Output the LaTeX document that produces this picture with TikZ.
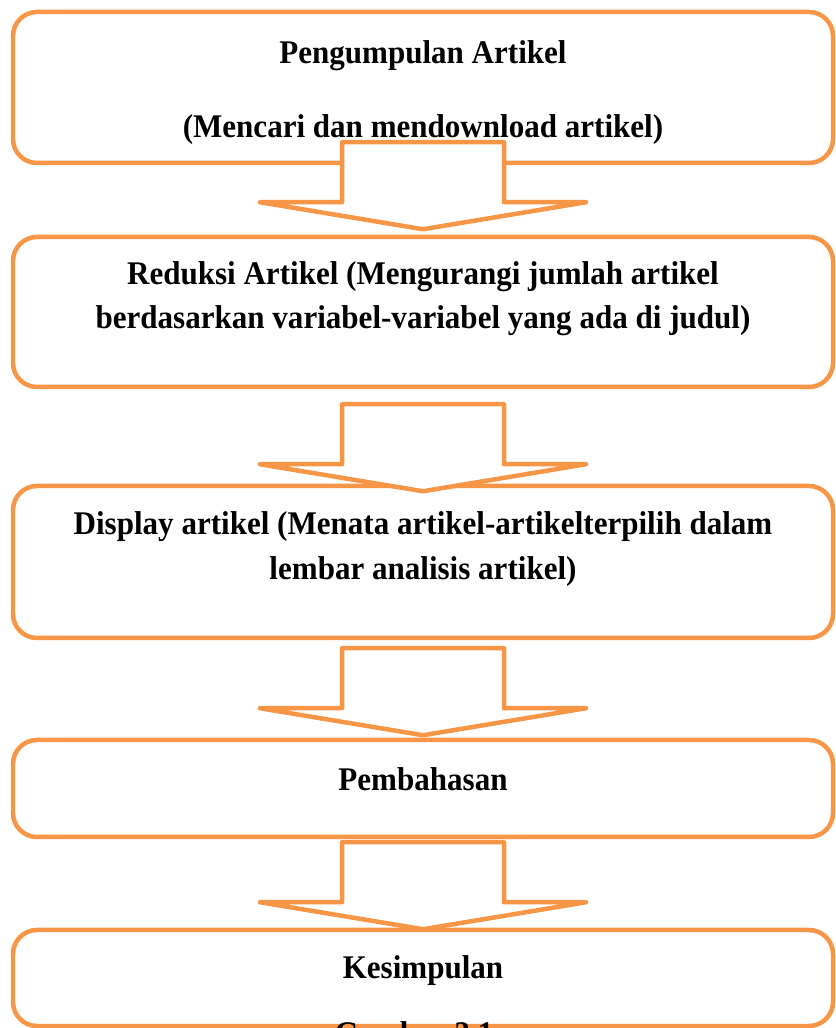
\documentclass[tikz,border=0pt]{standalone}
\usepackage{fontspec}
\setmainfont{Liberation Serif}
\newfontfamily\stagefont[FakeStretch=0.94]{Liberation Serif}
\usetikzlibrary{positioning}
\definecolor{stageorange}{HTML}{F79646}
\definecolor{stageink}{HTML}{000000}

\begin{document}
\begin{tikzpicture}[x=1cm,y=1cm,
    stagebox/.style={draw=stageorange,line width=3.2pt,rounded corners=0.6cm,
      fill=white,minimum width=20.5cm,inner sep=0pt},
    stagetext/.style={align=center,text=stageink,
      font=\stagefont\fontsize{23.5}{31.5}\selectfont\bfseries},
    blockarrow/.style={draw=stageorange,line width=3.2pt,fill=white,line join=round}]
        \useasboundingbox (0,0) rectangle (20.875,25.7);

        \node[stagebox,minimum height=3.775cm] (collect) at (10.575,23.5125) {};
        \node[stagebox,minimum height=3.75cm] (reduce) at (10.575,17.9) {};
        \node[stagebox,minimum height=3.8cm] (display) at (10.575,11.65) {};
        \node[stagebox,minimum height=2.425cm] (discuss) at (10.575,5.9875) {};
        \node[stagebox,minimum height=2.4cm] (conclude) at (10.575,1.25) {};

        \node[stagetext] (collecttext) at (10.575,23.38)
          {Pengumpulan Artikel\\[21pt](Mencari dan mendownload artikel)};
        \node[stagetext] (reducetext) at (10.575,18.23)
          {Reduksi Artikel (Mengurangi jumlah artikel\\berdasarkan variabel-variabel yang ada di judul)};
        \node[stagetext] (displaytext) at (10.575,11.97)
          {Display artikel (Menata artikel-artikelterpilih dalam\\lembar analisis artikel)};
        \node[stagetext] (discusstext) at (10.575,6.23) {Pembahasan};
        \node[stagetext] (concludetext) at (10.575,1.44) {Kesimpulan};

        \draw[blockarrow] (collect.south) ++(-2.025,0.575) -- ++(0,-1.5) -- ++(-2.05,0)
          -- ++(4.075,-0.675) -- ++(4.075,0.675) -- ++(-2.05,0) -- ++(0,1.5) -- cycle;
        \draw[blockarrow] (reduce.south) ++(-2.025,-0.375) -- ++(0,-1.5) -- ++(-2.05,0)
          -- ++(4.075,-0.675) -- ++(4.075,0.675) -- ++(-2.05,0) -- ++(0,1.5) -- cycle;
        \draw[blockarrow] (display.south) ++(-2.025,-0.2) -- ++(0,-1.5) -- ++(-2.05,0)
          -- ++(4.075,-0.675) -- ++(4.075,0.675) -- ++(-2.05,0) -- ++(0,1.5) -- cycle;
        \draw[blockarrow] (discuss.south) ++(-2.025,-0.075) -- ++(0,-1.5) -- ++(-2.05,0)
          -- ++(4.075,-0.675) -- ++(4.075,0.675) -- ++(-2.05,0) -- ++(0,1.5) -- cycle;

        \node[stagetext,anchor=base] (caption) at (10.35,-0.4) {Gambar 3.1};
      \end{tikzpicture}
\end{document}
